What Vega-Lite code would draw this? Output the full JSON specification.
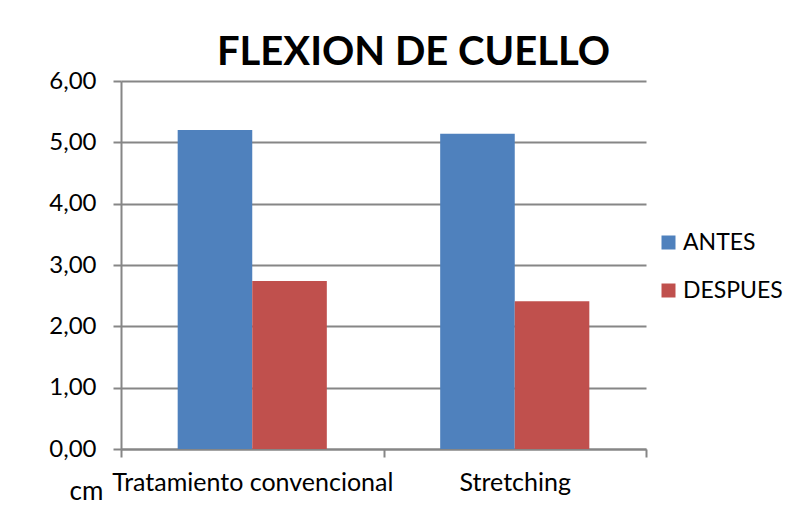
{
  "$schema": "https://vega.github.io/schema/vega-lite/v6.json",
  "width": 525,
  "height": 368,
  "autosize": "none",
  "padding": {"left": 121, "top": 81, "right": 146, "bottom": 61},
  "background": "white",
  "title": {"text": "FLEXION DE CUELLO", "fontSize": 40, "font": "Lato", "fontWeight": "bold", "color": "black", "anchor": "middle", "frame": "group", "dx": 30, "offset": -4},
  "data": {"values": [
    {"grupo": "Tratamiento convencional", "momento": "ANTES", "valor": 5.20},
    {"grupo": "Tratamiento convencional", "momento": "DESPUES", "valor": 2.74},
    {"grupo": "Stretching", "momento": "ANTES", "valor": 5.14},
    {"grupo": "Stretching", "momento": "DESPUES", "valor": 2.41}
  ]},
  "mark": {"type": "bar"},
  "encoding": {
    "x": {"field": "grupo", "type": "nominal", "sort": ["Tratamiento convencional", "Stretching"],
      "scale": {"paddingInner": 0, "paddingOuter": 0},
      "axis": {"title": null, "labelAngle": 0, "labelFontSize": 25, "labelFont": "Lato", "labelColor": "black", "labelLimit": 0, "tickBand": "extent", "tickSize": 8, "tickColor": "#868686", "tickWidth": 2, "domainColor": "#868686", "domainWidth": 2, "labelPadding": 13, "grid": false}},
    "xOffset": {"field": "momento", "type": "nominal", "sort": ["ANTES", "DESPUES"], "scale": {"paddingInner": 0, "paddingOuter": 0.76}},
    "y": {"field": "valor", "type": "quantitative", "scale": {"domain": [0, 6]},
      "axis": {"title": "cm", "titleAngle": 0, "titleX": -35, "titleY": 418, "titleAlign": "center", "titleBaseline": "alphabetic", "titleFontSize": 26, "titleFont": "Lato", "titleFontWeight": "normal", "titleColor": "black", "values": [0, 1, 2, 3, 4, 5, 6], "format": ".2f", "labelFontSize": 24, "labelFont": "Lato", "labelColor": "black", "labelPadding": 17, "tickSize": 8, "tickColor": "#868686", "tickWidth": 2, "domainColor": "#868686", "domainWidth": 2, "grid": true, "gridColor": "#868686", "gridWidth": 2}},
    "color": {"field": "momento", "type": "nominal", "scale": {"domain": ["ANTES", "DESPUES"], "range": ["#4F81BD", "#C0504D"]},
      "legend": {"title": null, "orient": "none", "legendX": 536, "legendY": 150, "symbolType": "square", "symbolSize": 196, "symbolStrokeWidth": 0, "symbolOpacity": 1, "labelFontSize": 23, "labelFont": "Lato", "labelColor": "black", "rowPadding": 24, "labelOffset": 3}}
  },
  "config": {
    "locale": {"number": {"decimal": ",", "thousands": ".", "grouping": [3], "currency": ["", " €"]}},
    "view": {"stroke": null}
  }
}
